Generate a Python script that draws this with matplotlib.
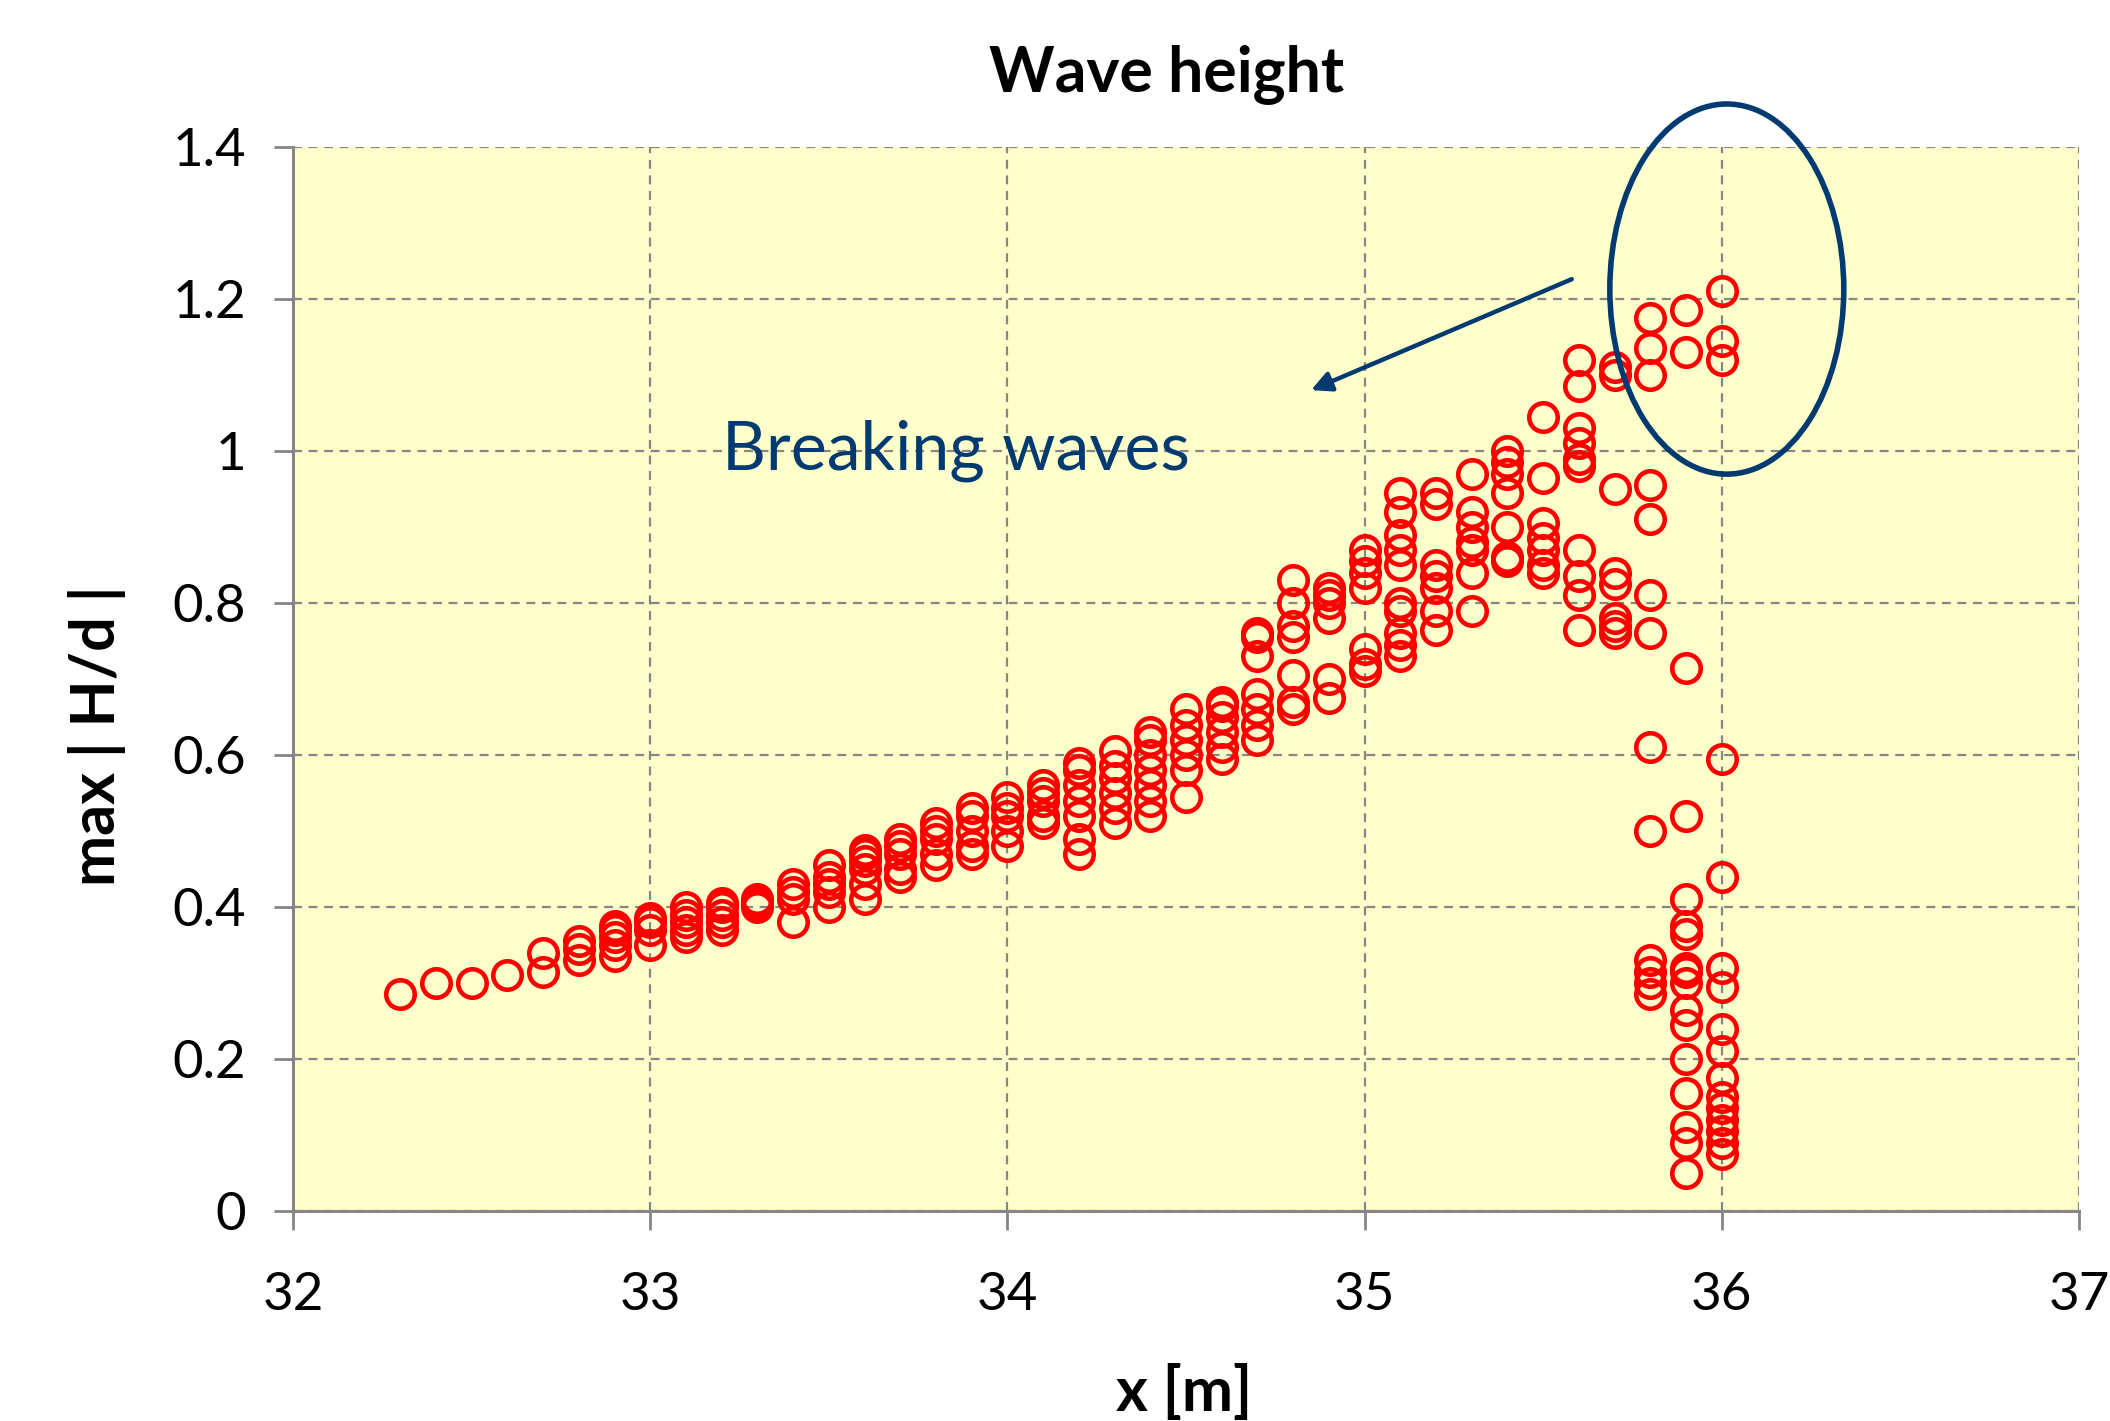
import matplotlib
matplotlib.use("Agg")
import matplotlib.pyplot as plt
from matplotlib.patches import Ellipse

plt.rcParams['font.family'] = ['Lato', 'DejaVu Sans']

# ---- data ----
x_groups = [32.3, 32.4, 32.5, 32.6, 32.7, 32.8, 32.9, 33.0, 33.1, 33.2, 33.3, 33.4,
            33.5, 33.6, 33.7, 33.8, 33.9, 34.0, 34.1, 34.2, 34.3, 34.4, 34.5, 34.6,
            34.7, 34.8, 34.9, 35.0, 35.1, 35.2, 35.3, 35.4, 35.5, 35.6, 35.7, 35.8,
            35.9, 36.0]
y_groups = [
    [0.285],
    [0.30],
    [0.30],
    [0.31],
    [0.315, 0.34],
    [0.33, 0.345, 0.355],
    [0.335, 0.35, 0.36, 0.37, 0.375],
    [0.35, 0.37, 0.38, 0.385],
    [0.36, 0.37, 0.38, 0.39, 0.40],
    [0.37, 0.38, 0.39, 0.40, 0.405],
    [0.40, 0.405, 0.41],
    [0.38, 0.41, 0.42, 0.43],
    [0.40, 0.42, 0.43, 0.44, 0.455],
    [0.41, 0.43, 0.45, 0.46, 0.47, 0.475],
    [0.44, 0.45, 0.47, 0.48, 0.49],
    [0.455, 0.47, 0.49, 0.50, 0.51],
    [0.47, 0.48, 0.50, 0.52, 0.53],
    [0.48, 0.50, 0.52, 0.53, 0.545],
    [0.51, 0.52, 0.54, 0.55, 0.56],
    [0.47, 0.49, 0.52, 0.54, 0.56, 0.58, 0.59],
    [0.51, 0.53, 0.55, 0.57, 0.585, 0.605],
    [0.52, 0.54, 0.56, 0.58, 0.60, 0.62, 0.63],
    [0.545, 0.58, 0.60, 0.62, 0.64, 0.66],
    [0.595, 0.61, 0.63, 0.65, 0.665, 0.67],
    [0.62, 0.64, 0.66, 0.68, 0.73, 0.755, 0.76],
    [0.66, 0.67, 0.705, 0.755, 0.77, 0.80, 0.83],
    [0.675, 0.70, 0.78, 0.80, 0.81, 0.82],
    [0.71, 0.72, 0.74, 0.82, 0.84, 0.855, 0.87],
    [0.73, 0.745, 0.76, 0.79, 0.80, 0.85, 0.87, 0.89, 0.92, 0.945],
    [0.765, 0.79, 0.82, 0.835, 0.85, 0.93, 0.945],
    [0.79, 0.84, 0.87, 0.88, 0.90, 0.92, 0.97],
    [0.855, 0.86, 0.90, 0.945, 0.97, 0.985, 1.00],
    [0.84, 0.85, 0.87, 0.885, 0.905, 0.965, 1.045],
    [0.765, 0.81, 0.835, 0.87, 0.98, 0.99, 1.01, 1.03, 1.085, 1.12],
    [0.76, 0.77, 0.78, 0.825, 0.84, 0.95, 1.10, 1.11],
    [0.285, 0.30, 0.315, 0.33, 0.50, 0.61, 0.76, 0.81, 0.91, 0.955, 1.10, 1.135, 1.175],
    [0.05, 0.09, 0.11, 0.155, 0.20, 0.245, 0.265, 0.30, 0.315, 0.32, 0.365, 0.375,
     0.41, 0.52, 0.715, 1.13, 1.185],
    [0.075, 0.09, 0.105, 0.12, 0.135, 0.15, 0.175, 0.21, 0.24, 0.295, 0.32, 0.44,
     0.595, 1.12, 1.145, 1.21],
]
x_ticks = [32, 33, 34, 35, 36, 37]
y_ticks = [0, 0.2, 0.4, 0.6, 0.8, 1.0, 1.2, 1.4]
y_tick_labels = ["0", "0.2", "0.4", "0.6", "0.8", "1", "1.2", "1.4"]

xs = []
ys = []
for xv, yl in zip(x_groups, y_groups):
    for yv in yl:
        xs.append(xv)
        ys.append(yv)

fig = plt.figure(figsize=(21.10, 14.21), dpi=100)
ax = fig.add_axes([0.1389, 0.1478, 0.8464, 0.7488])
ax.set_facecolor('#FFFFCC')

ax.plot(xs, ys, linestyle='none', marker='o', markersize=20.5, markerfacecolor='none',
        markeredgecolor='#FF0000', markeredgewidth=3.3, zorder=3)

ax.set_xlim(32, 37)
ax.set_ylim(0, 1.4)
ax.set_xticks(x_ticks)
ax.set_xticklabels([str(t) for t in x_ticks])
ax.set_yticks(y_ticks)
ax.set_yticklabels(y_tick_labels)

ax.grid(True, color='#868686', linestyle=(0, (4, 3)), linewidth=1.6, zorder=1)
ax.set_axisbelow(True)
for s in ['top', 'right']:
    ax.spines[s].set_visible(False)
for s in ['left', 'bottom']:
    ax.spines[s].set_color('#868686')
    ax.spines[s].set_linewidth(2.2)
ax.tick_params(axis='both', direction='out', length=14, width=2, color='#868686',
               labelsize=38, labelcolor='#000000')
ax.tick_params(axis='y', pad=20)
ax.tick_params(axis='x', pad=30)

fig.text(0.553, 0.948, 'Wave height', fontsize=45, fontweight='bold', ha='center', va='center')
fig.text(0.561, 0.020, 'x [m]', fontsize=44, fontweight='bold', ha='center', va='center')
fig.text(0.046, 0.482, 'max | H/d |', fontsize=44, fontweight='bold', ha='center', va='center',
         rotation=90)

navy = '#003A70'
ax.text(33.2, 1.0, 'Breaking waves', fontsize=49, color=navy, va='center', ha='left', zorder=4)
ax.annotate('', xy=(34.85, 1.08), xytext=(35.58, 1.226),
            arrowprops=dict(arrowstyle='-|>', color=navy, lw=3.2, mutation_scale=30,
                            shrinkA=0, shrinkB=0), zorder=4)
ell = Ellipse((36.014, 1.213), width=0.655, height=0.487, fill=False,
              edgecolor=navy, linewidth=4, zorder=4, clip_on=False)
ax.add_patch(ell)

fig.savefig('out.png', dpi=100, facecolor='white')
